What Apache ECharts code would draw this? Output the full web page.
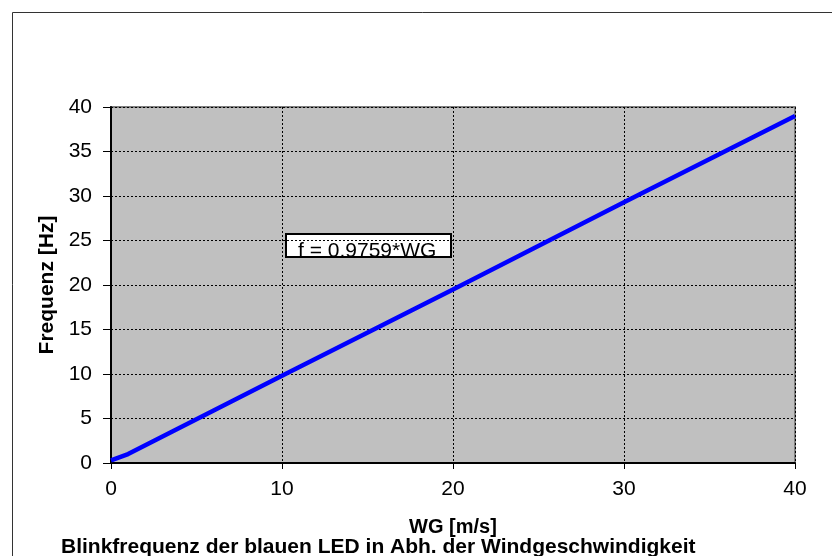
<!DOCTYPE html>
<html>
<head>
<meta charset="utf-8">
<script src="https://cdn.jsdelivr.net/npm/echarts@6/dist/echarts.min.js"></script>
<style>
  html, body { margin: 0; padding: 0; background: #fff; }
  #chart { width: 832px; height: 556px; }
</style>
</head>
<body>
<div id="chart"></div>
<script>
// WG [m/s] and blink frequency [Hz]
const windSpeed = [0, 1, 10, 20, 30, 40];
const frequency = [0.3, 1.0, 9.8, 19.5, 29.3, 39.0];
const xTicks = [0, 10, 20, 30, 40];
const yTicks = [0, 5, 10, 15, 20, 25, 30, 35, 40];

const font = 'Liberation Sans, Arial, sans-serif';
const chart = echarts.init(document.getElementById('chart'));

const option = {
    animation: false,
    backgroundColor: '#fff',
    grid: {
        left: 111,
        right: 37,
        top: 107,
        bottom: 93,
        show: true,
        backgroundColor: '#c0c0c0',
        borderColor: '#808080',
        borderWidth: 2
    },
    xAxis: {
        type: 'value',
        min: xTicks[0],
        max: xTicks[xTicks.length - 1],
        interval: 10,
        name: 'WG [m/s]',
        nameLocation: 'middle',
        nameGap: 54,
        nameTextStyle: { fontFamily: font, fontSize: 20, fontWeight: 'bold', color: '#000' },
        axisLine: { show: true, lineStyle: { color: '#000', width: 2 } },
        axisTick: { show: true, inside: false, length: 6, lineStyle: { color: '#000' } },
        axisLabel: { fontFamily: font, fontSize: 21, color: '#000', margin: 16 },
        splitLine: { show: true, lineStyle: { color: '#000', type: [2, 2], width: 1 } }
    },
    yAxis: {
        type: 'value',
        min: yTicks[0],
        max: yTicks[yTicks.length - 1],
        interval: 5,
        name: 'Frequenz [Hz]',
        nameLocation: 'middle',
        nameGap: 50,
        nameTextStyle: { fontFamily: font, fontSize: 21, fontWeight: 'bold', color: '#000' },
        axisLine: { show: true, lineStyle: { color: '#000', width: 2 } },
        axisTick: { show: true, inside: false, length: 8, lineStyle: { color: '#000' } },
        axisLabel: { fontFamily: font, fontSize: 21, color: '#000', margin: 19 },
        splitLine: { show: true, lineStyle: { color: '#000', type: [2, 2], width: 1 } }
    },
    series: [{
        type: 'line',
        data: windSpeed.map((w, i) => [w, frequency[i]]),
        showSymbol: false,
        lineStyle: { color: '#0000ff', width: 4.5 },
        z: 5
    }],
    graphic: [
        {
            // outer chart border
            type: 'rect',
            shape: { x: 12.5, y: 12.5, width: 900, height: 600 },
            style: { fill: 'none', stroke: '#333', lineWidth: 1 },
            z: 0
        },
        {
            // label box, text runs slightly past the bottom edge
            type: 'group',
            x: 286,
            y: 234,
            z: 10,
            children: [
                {
                    type: 'rect',
                    shape: { x: 0, y: 0, width: 165, height: 23 },
                    style: { fill: '#fff' }
                },
                {
                    type: 'text',
                    x: 12,
                    y: 17.5,
                    style: { text: 'f = 0.9759*WG', font: '21px ' + font, fill: '#000', verticalAlign: 'middle' }
                },
                {
                    type: 'rect',
                    shape: { x: 0, y: 0, width: 165, height: 23 },
                    style: { fill: 'none', stroke: '#000', lineWidth: 2 }
                }
            ]
        },
        {
            type: 'text',
            x: 61,
            y: 547,
            z: 10,
            style: { text: 'Blinkfrequenz der blauen LED in Abh. der Windgeschwindigkeit', font: 'bold 21px ' + font, fill: '#000', verticalAlign: 'middle' }
        }
    ]
};

chart.setOption(option);
</script>
</body>
</html>
